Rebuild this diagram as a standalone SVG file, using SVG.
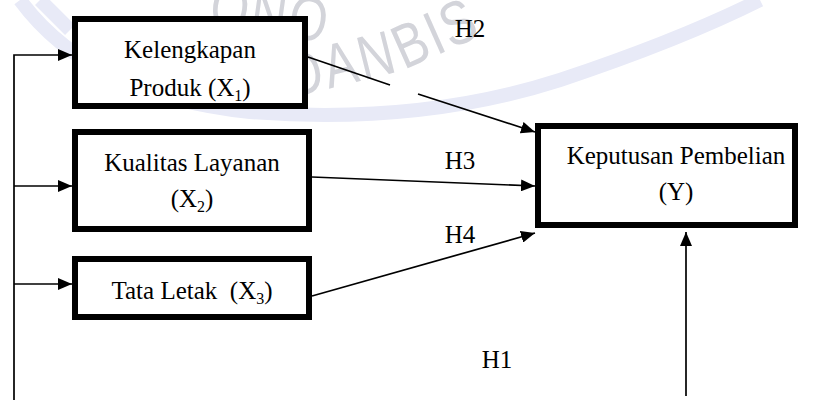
<svg xmlns="http://www.w3.org/2000/svg" width="814" height="409" viewBox="0 0 814 409">
<defs>
<style>
.box{fill:#fff;stroke:#000;stroke-width:6}
.lbl{font-family:"Liberation Serif","Times New Roman",serif;font-size:25px;fill:#000;text-anchor:middle}
.sub{font-size:16px}
.con{fill:none;stroke:#000;stroke-width:1.7}
.wm{font-family:"Liberation Sans",Arial,sans-serif;font-size:62px;fill:#d3d4da;letter-spacing:3px}
.band{fill:none;stroke:#e8eaf7;stroke-width:14}
</style>
<marker id="ah" viewBox="0 0 14 12" refX="14" refY="6" markerWidth="14" markerHeight="12" markerUnits="userSpaceOnUse" orient="auto">
<path d="M0,0 L14,6 L0,12 Z" fill="#000"/>
</marker>
<linearGradient id="fade" x1="0" y1="0" x2="1" y2="0">
<stop offset="0" stop-color="#fff"/>
<stop offset="0.6" stop-color="#000"/>
<stop offset="1" stop-color="#000"/>
</linearGradient>
</defs>
<rect width="814" height="409" fill="#fff"/>
<g id="watermark">
<path class="band" d="M20,0 Q90,95 250,112 Q420,125 560,80 Q680,40 760,0"/>
<path class="band" d="M40,0 L70,30" stroke-width="10"/>
<text class="wm" transform="translate(208,26) rotate(8) scale(0.8,1)">ONO</text>
<text class="wm" transform="translate(292,98) rotate(-14) scale(0.8,1)">DAN</text>
<text class="wm" transform="translate(404,70) rotate(-24) scale(0.8,1)" letter-spacing="10">BIS</text>
</g>
<g id="connectors">
<path class="con" d="M14,400 L14,55 L72,55" marker-end="url(#ah)"/>
<path class="con" d="M14,186 L72,186" marker-end="url(#ah)"/>
<path class="con" d="M14,284 L72,284" marker-end="url(#ah)"/>
<path class="con" d="M308,57 L390,85"/>
<path class="con" d="M418,94 L535,132" marker-end="url(#ah)"/>
<path class="con" d="M312,177 L535,186" marker-end="url(#ah)"/>
<path class="con" d="M312,296 L535,233" marker-end="url(#ah)"/>
<path class="con" d="M686,396 L686,232" marker-end="url(#ah)"/>
<path d="M572,407.5 L686,407.5" stroke="url(#fade)" stroke-width="2.5" fill="none"/>
<text class="lbl" x="470" y="37">H2</text>
<text class="lbl" x="460" y="169">H3</text>
<text class="lbl" x="460" y="243">H4</text>
<text class="lbl" x="497" y="368">H1</text>
</g>
<g id="x1">
<rect class="box" x="75" y="19" width="230" height="87"/>
<text class="lbl" x="190" y="58">Kelengkapan</text>
<text class="lbl" x="190" y="96">Produk (X<tspan class="sub" dy="5">1</tspan><tspan dy="-5">)</tspan></text>
</g>
<g id="x2">
<rect class="box" x="75" y="132" width="234" height="97"/>
<text class="lbl" x="192" y="171">Kualitas Layanan</text>
<text class="lbl" x="192" y="207">(X<tspan class="sub" dy="5">2</tspan><tspan dy="-5">)</tspan></text>
</g>
<g id="x3">
<rect class="box" x="75" y="259" width="234" height="58"/>
<text class="lbl" x="192" y="299" xml:space="preserve">Tata Letak  (X<tspan class="sub" dy="5">3</tspan><tspan dy="-5">)</tspan></text>
</g>
<g id="y">
<rect class="box" x="538" y="126" width="257" height="99"/>
<text class="lbl" x="676" y="164">Keputusan Pembelian</text>
<text class="lbl" x="676" y="200">(Y)</text>
</g>
</svg>
